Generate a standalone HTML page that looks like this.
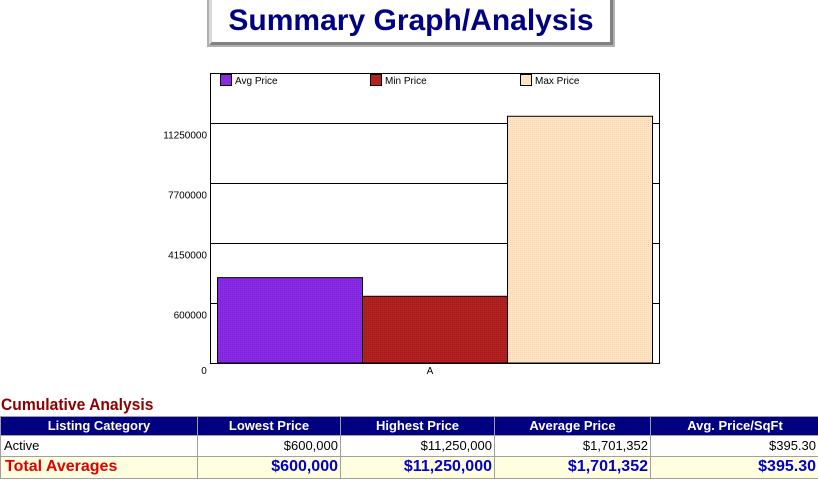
<!DOCTYPE html>
<html><head><meta charset="utf-8"><style>
body{margin:0;width:818px;height:480px;background:#fff;position:relative;overflow:hidden;font-family:"Liberation Sans",Arial,sans-serif}
.abs{position:absolute}
#title{left:209px;top:-4px;width:398px;height:42px;border:3px solid;border-color:#d8d8d8 #808080 #808080 #d8d8d8;outline:2px solid #b0b0b0;background:#fff;color:#000080;font-weight:bold;font-size:30px;line-height:42px;text-align:center;top:-3px}
.cell{position:absolute;box-sizing:border-box;border:1px solid #a0a0a0;font-size:13px;white-space:nowrap;overflow:hidden}
.hd{background:#000080;color:#fff;font-weight:bold;text-align:center;line-height:18px}
.r1{background:#fff;color:#000;text-align:right;padding-right:2px;line-height:19px}
.r2{background:#ffffe0;color:#0000cc;font-weight:bold;font-size:16px;text-align:right;padding-right:2px;line-height:20px}
</style></head><body>
<div id="title" class="abs">Summary Graph/Analysis</div>
<svg class="abs" style="left:0;top:0" width="818" height="390">
<defs>
<pattern id="p1" width="2" height="2" patternUnits="userSpaceOnUse"><rect width="2" height="2" fill="#8a2be2"/><rect width="1" height="1" fill="#7a1fe0"/></pattern>
<pattern id="p2" width="2" height="2" patternUnits="userSpaceOnUse"><rect width="2" height="2" fill="#b22222"/><rect width="1" height="1" fill="#a01818"/></pattern>
<pattern id="p3" width="2" height="2" patternUnits="userSpaceOnUse"><rect width="2" height="2" fill="#ffe4c4"/><rect width="1" height="1" fill="#f5d5b0"/></pattern>
</defs>
<g id="chart"></g>
</svg>
<script>
const seriesNames=["Avg Price","Min Price","Max Price"];
const seriesValues=[1701352,600000,11250000];
const tickLabels=["600000","4150000","7700000","11250000"];
const categories=["A"];
const fills=["url(#p1)","url(#p2)","url(#p3)"];
const legendFills=["#8a2be2","#b22222","#ffe4c4"];
const L=210,R=659,T=73,B=363;
function yScale(v){return 306.4-v*16.9e-6;}
function tickY(i){return B-60*(i+1);}
const g=document.getElementById('chart');
const NS="http://www.w3.org/2000/svg";
function mk(t,a,txt){const e=document.createElementNS(NS,t);for(const k in a)e.setAttribute(k,a[k]);if(txt!==undefined)e.textContent=txt;g.appendChild(e);return e;}
const frame=mk('rect',{x:L+0.5,y:T+0.5,width:R-L,height:B-T,fill:'#fff',stroke:'#000'});


tickLabels.forEach((t,i)=>{
 const y=tickY(i)+0.5;
 const ln=mk('line',{x1:L,x2:R,y1:y,y2:y,stroke:'#000'});
 
 
 const tx=mk('text',{x:207,y:y+15,'text-anchor':'end','font-size':10,'font-family':'Liberation Sans, sans-serif'},t);
 
 
});
const z=mk('text',{x:204,y:374,'text-anchor':'middle','font-size':10,'font-family':'Liberation Sans, sans-serif'},"0");


const bw=145,x0=217;
seriesValues.forEach((v,i)=>{
 const y=yScale(v);
 const r=mk('rect',{x:x0+i*bw+0.5,y:y,width:bw,height:B-y,fill:fills[i],stroke:'#000','stroke-width':1});
 
 
});
const cx=mk('text',{x:430,y:374,'text-anchor':'middle','font-size':10,'font-family':'Liberation Sans, sans-serif'},categories[0]);


seriesNames.forEach((n,i)=>{
 const lx=220+i*150;
 const s=mk('rect',{x:lx+0.5,y:74.5,width:11,height:11,fill:legendFills[i],stroke:'#000'});
 
 
 const t=mk('text',{x:lx+15,y:84,'font-size':10,'font-family':'Liberation Sans, sans-serif'},n);
 
 
});
</script>
<div class="abs" style="left:1px;top:395px;color:#8b0000;font-weight:bold;font-size:17px;transform:scaleX(0.92);transform-origin:left">Cumulative Analysis</div>
<div>
<div class="cell hd" style="left:0;top:416px;width:198px;height:20px">Listing Category</div>
<div class="cell hd" style="left:197px;top:416px;width:144px;height:20px">Lowest Price</div>
<div class="cell hd" style="left:340px;top:416px;width:155px;height:20px">Highest Price</div>
<div class="cell hd" style="left:494px;top:416px;width:157px;height:20px">Average Price</div>
<div class="cell hd" style="left:650px;top:416px;width:170px;height:20px">Avg. Price/SqFt</div>
<div class="cell r1" style="left:0;top:435px;width:198px;height:22px;text-align:left;padding-left:3px">Active</div>
<div class="cell r1" style="left:197px;top:435px;width:144px;height:22px">$600,000</div>
<div class="cell r1" style="left:340px;top:435px;width:155px;height:22px">$11,250,000</div>
<div class="cell r1" style="left:494px;top:435px;width:157px;height:22px">$1,701,352</div>
<div class="cell r1" style="left:650px;top:435px;width:170px;height:22px;padding-right:3px">$395.30</div>
<div class="cell r2" style="left:0;top:456px;width:198px;height:23px;text-align:left;padding-left:4px;color:#e00000">Total Averages</div>
<div class="cell r2" style="left:197px;top:456px;width:144px;height:23px">$600,000</div>
<div class="cell r2" style="left:340px;top:456px;width:155px;height:23px">$11,250,000</div>
<div class="cell r2" style="left:494px;top:456px;width:157px;height:23px">$1,701,352</div>
<div class="cell r2" style="left:650px;top:456px;width:170px;height:23px;padding-right:3px">$395.30</div>
</div>
</body></html>
